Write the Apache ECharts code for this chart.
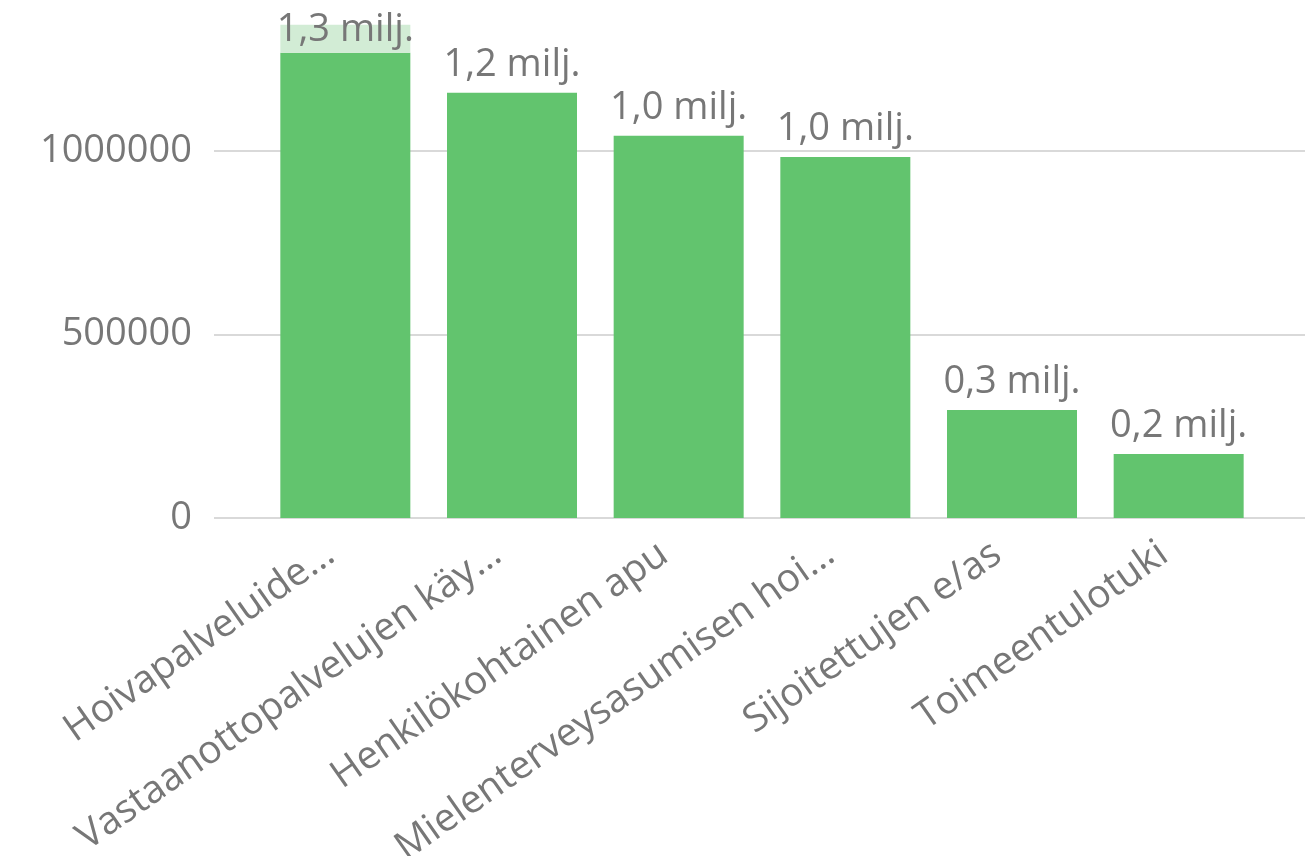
<!DOCTYPE html>
<html>
<head>
<meta charset="utf-8">
<script src="https://cdn.jsdelivr.net/npm/echarts@6/dist/echarts.min.js"></script>
<style>
  html, body { margin: 0; padding: 0; background: #fff; }
  #chart { width: 1305px; height: 856px; }
</style>
</head>
<body>
<div id="chart"></div>
<script>
// categories as they appear (already cut by the original report)
var categories = ['Hoivapalveluide…', 'Vastaanottopalvelujen käy…', 'Henkilökohtainen apu',
  'Mielenterveysasumisen hoi…', 'Sijoitettujen e/as', 'Toimeentulotuki'];
var values = [1267000, 1158000, 1041000, 983000, 294000, 174000];
var yTicks = [0, 500000, 1000000];

var barColor = '#62c46e';
var textColor = '#777777';
var gridColor = '#cccccc';
var fontFam = '"Open Sans", "Noto Sans", sans-serif';

var myChart = echarts.init(document.getElementById('chart'));

var barData = values.map(function (v, i) {
  var item = { value: v };
  if (i === 0) {
    // first label has a highlighted box
    item.label = {
      backgroundColor: '#d2ecd5',
      width: 130,
      align: 'center',
      lineHeight: 11,
      padding: [0, 0, 17, 0],
      distance: 0
    };
  }
  return item;
});

var option = {
  animation: false,
  grid: [
    { left: 214, right: 0, top: 4, bottom: 338, outerBoundsMode: 'none' },
    { left: 262, right: 43, top: 4, bottom: 338, outerBoundsMode: 'none' }
  ],
  xAxis: [
    { gridIndex: 0, type: 'value', show: false, min: 0, max: 1 },
    {
      gridIndex: 1,
      type: 'category',
      data: categories,
      axisLine: { show: false },
      axisTick: { show: false },
      axisLabel: {
        interval: 0,
        rotate: 35,
        margin: 22,
        padding: [0, 18, 0, 0],
        color: textColor,
        fontSize: 39,
        fontFamily: fontFam
      }
    }
  ],
  yAxis: [
    {
      gridIndex: 0,
      type: 'value',
      min: 0,
      max: 1400000,
      interval: 500000,
      axisLine: { show: false },
      axisTick: { show: false },
      splitLine: { lineStyle: { color: gridColor, width: 1.5 }, showMaxLine: false },
      axisLabel: {
        margin: 22,
        color: textColor,
        fontSize: 38,
        fontFamily: fontFam,
        showMaxLabel: false,
        formatter: function (v) { return yTicks.indexOf(v) >= 0 ? String(v) : ''; }
      }
    },
    { gridIndex: 1, type: 'value', show: false, min: 0, max: 1400000 }
  ],
  series: [{
    type: 'bar',
    xAxisIndex: 1,
    yAxisIndex: 1,
    barWidth: 130,
    itemStyle: { color: barColor },
    label: {
      show: true,
      position: 'top',
      distance: 9,
      color: textColor,
      fontSize: 38,
      fontFamily: fontFam,
      formatter: function (p) {
        return (p.value / 1000000).toFixed(1).replace('.', ',') + ' milj.';
      }
    },
    data: barData
  }]
};

myChart.setOption(option);
</script>
</body>
</html>
